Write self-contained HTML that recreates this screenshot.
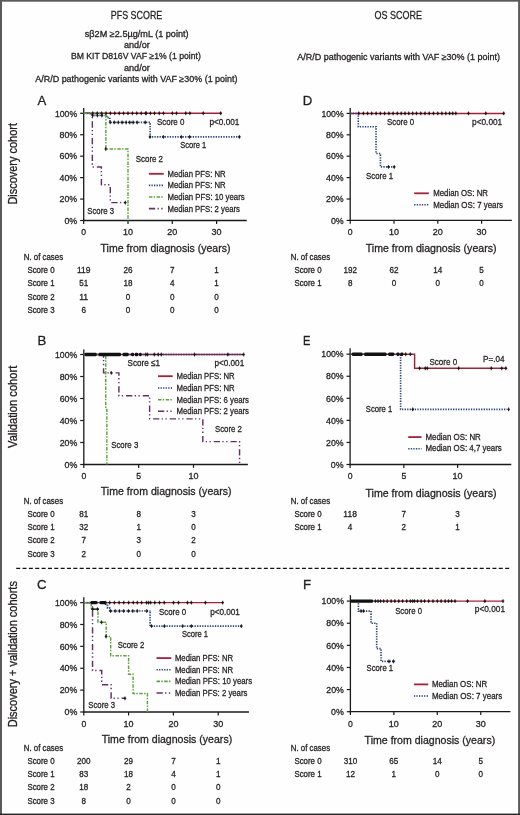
<!DOCTYPE html>
<html><head><meta charset="utf-8"><title>PFS and OS scores</title>
<style>html,body{margin:0;padding:0;background:#fff;width:520px;height:815px;overflow:hidden;}svg{display:block;will-change:transform;}text{font-family:"Liberation Sans",sans-serif;stroke:#231f20;stroke-width:0.3px;}</style></head>
<body>
<svg width="520" height="815" viewBox="0 0 520 815" font-family="Liberation Sans, sans-serif">
<rect x="0" y="0" width="520" height="815" fill="#fefefe"/>
<text x="110.80" y="18.50" font-size="11.6" textLength="51.5" lengthAdjust="spacingAndGlyphs" fill="#231f20">PFS SCORE</text>
<text x="374.60" y="18.70" font-size="11.6" textLength="47.4" lengthAdjust="spacingAndGlyphs" fill="#231f20">OS SCORE</text>
<text x="84.80" y="36.80" font-size="8.9" textLength="103.8" lengthAdjust="spacingAndGlyphs" fill="#231f20">sβ2M ≥2.5µg/mL (1 point)</text>
<text x="124.00" y="48.00" font-size="8.9" textLength="25.8" lengthAdjust="spacingAndGlyphs" fill="#231f20">and/or</text>
<text x="70.90" y="59.40" font-size="8.9" textLength="129.9" lengthAdjust="spacingAndGlyphs" fill="#231f20">BM KIT D816V VAF ≥1% (1 point)</text>
<text x="124.00" y="70.70" font-size="8.9" textLength="25.8" lengthAdjust="spacingAndGlyphs" fill="#231f20">and/or</text>
<text x="35.30" y="81.90" font-size="8.9" textLength="202.2" lengthAdjust="spacingAndGlyphs" fill="#231f20">A/R/D pathogenic variants with VAF ≥30% (1 point)</text>
<text x="297.30" y="60.00" font-size="8.9" textLength="202.6" lengthAdjust="spacingAndGlyphs" fill="#231f20">A/R/D pathogenic variants with VAF ≥30% (1 point)</text>
<text transform="translate(16.90,204.60) rotate(-90)" font-size="12.4" textLength="81.6" lengthAdjust="spacingAndGlyphs" fill="#231f20">Discovery cohort</text>
<text transform="translate(16.90,447.90) rotate(-90)" font-size="12.4" textLength="82.2" lengthAdjust="spacingAndGlyphs" fill="#231f20">Validation cohort</text>
<text transform="translate(16.90,727.30) rotate(-90)" font-size="12.4" textLength="146.2" lengthAdjust="spacingAndGlyphs" fill="#231f20">Discovery + validation cohorts</text>
<line x1="16.20" y1="568.30" x2="511.00" y2="568.30" stroke="#111" stroke-width="1.3" stroke-dasharray="4,2.35" stroke-linecap="butt"/>
<line x1="83.70" y1="108.00" x2="83.70" y2="221.10" stroke="#1a1a1a" stroke-width="1.3" stroke-linecap="butt"/>
<line x1="83.10" y1="220.50" x2="246.80" y2="220.50" stroke="#1a1a1a" stroke-width="1.3" stroke-linecap="butt"/>
<line x1="80.10" y1="113.30" x2="83.70" y2="113.30" stroke="#1a1a1a" stroke-width="1.2" stroke-linecap="butt"/>
<text x="77.20" y="116.50" font-size="9.3" text-anchor="end" textLength="22.3" lengthAdjust="spacingAndGlyphs" fill="#231f20">100%</text>
<line x1="80.10" y1="134.74" x2="83.70" y2="134.74" stroke="#1a1a1a" stroke-width="1.2" stroke-linecap="butt"/>
<text x="77.20" y="137.94" font-size="9.3" text-anchor="end" textLength="17.6" lengthAdjust="spacingAndGlyphs" fill="#231f20">80%</text>
<line x1="80.10" y1="156.18" x2="83.70" y2="156.18" stroke="#1a1a1a" stroke-width="1.2" stroke-linecap="butt"/>
<text x="77.20" y="159.38" font-size="9.3" text-anchor="end" textLength="17.6" lengthAdjust="spacingAndGlyphs" fill="#231f20">60%</text>
<line x1="80.10" y1="177.62" x2="83.70" y2="177.62" stroke="#1a1a1a" stroke-width="1.2" stroke-linecap="butt"/>
<text x="77.20" y="180.82" font-size="9.3" text-anchor="end" textLength="17.6" lengthAdjust="spacingAndGlyphs" fill="#231f20">40%</text>
<line x1="80.10" y1="199.06" x2="83.70" y2="199.06" stroke="#1a1a1a" stroke-width="1.2" stroke-linecap="butt"/>
<text x="77.20" y="202.26" font-size="9.3" text-anchor="end" textLength="17.6" lengthAdjust="spacingAndGlyphs" fill="#231f20">20%</text>
<line x1="80.10" y1="220.50" x2="83.70" y2="220.50" stroke="#1a1a1a" stroke-width="1.2" stroke-linecap="butt"/>
<text x="77.20" y="223.70" font-size="9.3" text-anchor="end" textLength="12.8" lengthAdjust="spacingAndGlyphs" fill="#231f20">0%</text>
<line x1="83.70" y1="220.50" x2="83.70" y2="223.90" stroke="#1a1a1a" stroke-width="1.2" stroke-linecap="butt"/>
<text x="83.70" y="235.40" font-size="9.1" text-anchor="middle" textLength="4.8" lengthAdjust="spacingAndGlyphs" fill="#231f20">0</text>
<line x1="128.00" y1="220.50" x2="128.00" y2="223.90" stroke="#1a1a1a" stroke-width="1.2" stroke-linecap="butt"/>
<text x="128.00" y="235.40" font-size="9.1" text-anchor="middle" textLength="10.0" lengthAdjust="spacingAndGlyphs" fill="#231f20">10</text>
<line x1="172.30" y1="220.50" x2="172.30" y2="223.90" stroke="#1a1a1a" stroke-width="1.2" stroke-linecap="butt"/>
<text x="172.30" y="235.40" font-size="9.1" text-anchor="middle" textLength="10.0" lengthAdjust="spacingAndGlyphs" fill="#231f20">20</text>
<line x1="216.60" y1="220.50" x2="216.60" y2="223.90" stroke="#1a1a1a" stroke-width="1.2" stroke-linecap="butt"/>
<text x="216.60" y="235.40" font-size="9.1" text-anchor="middle" textLength="10.0" lengthAdjust="spacingAndGlyphs" fill="#231f20">30</text>
<text x="37.60" y="104.70" font-size="13.2" fill="#231f20">A</text>
<path d="M83.70,113.30H221.92" fill="none" stroke="#a3223a" stroke-width="1.45"/>
<path d="M83.70,113.30H91.23V115.44H106.74V117.59H109.84V122.41H150.15V136.88H239.64" fill="none" stroke="#26437c" stroke-width="1.65" stroke-dasharray="1.3,1.25"/>
<path d="M83.70,113.30H92.34V166.90H101.42V184.80H110.28V202.60H125.34" fill="none" stroke="#633263" stroke-width="1.45" stroke-dasharray="6.3,2.3,1.3,2.5,1.3,3.0"/>
<path d="M83.70,113.30H105.85V149.00H128.00V220.50" fill="none" stroke="#62a340" stroke-width="1.45" stroke-dasharray="3.5,1.2,1.5,1.5"/>
<path d="M92.80,111.35L93.35,112.75L94.15,113.30L93.35,113.85L92.80,115.25L92.25,113.85L91.45,113.30L92.25,112.75ZM97.20,111.35L97.75,112.75L98.55,113.30L97.75,113.85L97.20,115.25L96.65,113.85L95.85,113.30L96.65,112.75ZM101.60,111.35L102.15,112.75L102.95,113.30L102.15,113.85L101.60,115.25L101.05,113.85L100.25,113.30L101.05,112.75ZM106.00,111.35L106.55,112.75L107.35,113.30L106.55,113.85L106.00,115.25L105.45,113.85L104.65,113.30L105.45,112.75ZM110.40,111.35L110.95,112.75L111.75,113.30L110.95,113.85L110.40,115.25L109.85,113.85L109.05,113.30L109.85,112.75ZM114.80,111.35L115.35,112.75L116.15,113.30L115.35,113.85L114.80,115.25L114.25,113.85L113.45,113.30L114.25,112.75ZM119.20,111.35L119.75,112.75L120.55,113.30L119.75,113.85L119.20,115.25L118.65,113.85L117.85,113.30L118.65,112.75ZM123.60,111.35L124.15,112.75L124.95,113.30L124.15,113.85L123.60,115.25L123.05,113.85L122.25,113.30L123.05,112.75ZM128.00,111.35L128.55,112.75L129.35,113.30L128.55,113.85L128.00,115.25L127.45,113.85L126.65,113.30L127.45,112.75ZM132.40,111.35L132.95,112.75L133.75,113.30L132.95,113.85L132.40,115.25L131.85,113.85L131.05,113.30L131.85,112.75ZM136.80,111.35L137.35,112.75L138.15,113.30L137.35,113.85L136.80,115.25L136.25,113.85L135.45,113.30L136.25,112.75ZM141.20,111.35L141.75,112.75L142.55,113.30L141.75,113.85L141.20,115.25L140.65,113.85L139.85,113.30L140.65,112.75ZM145.60,111.35L146.15,112.75L146.95,113.30L146.15,113.85L145.60,115.25L145.05,113.85L144.25,113.30L145.05,112.75ZM146.20,111.35L146.75,112.75L147.55,113.30L146.75,113.85L146.20,115.25L145.65,113.85L144.85,113.30L145.65,112.75ZM150.40,111.35L150.95,112.75L151.75,113.30L150.95,113.85L150.40,115.25L149.85,113.85L149.05,113.30L149.85,112.75ZM154.50,111.35L155.05,112.75L155.85,113.30L155.05,113.85L154.50,115.25L153.95,113.85L153.15,113.30L153.95,112.75ZM159.20,111.35L159.75,112.75L160.55,113.30L159.75,113.85L159.20,115.25L158.65,113.85L157.85,113.30L158.65,112.75ZM163.50,111.35L164.05,112.75L164.85,113.30L164.05,113.85L163.50,115.25L162.95,113.85L162.15,113.30L162.95,112.75ZM172.40,111.35L172.95,112.75L173.75,113.30L172.95,113.85L172.40,115.25L171.85,113.85L171.05,113.30L171.85,112.75ZM176.50,111.35L177.05,112.75L177.85,113.30L177.05,113.85L176.50,115.25L175.95,113.85L175.15,113.30L175.95,112.75ZM185.80,111.35L186.35,112.75L187.15,113.30L186.35,113.85L185.80,115.25L185.25,113.85L184.45,113.30L185.25,112.75ZM189.90,111.35L190.45,112.75L191.25,113.30L190.45,113.85L189.90,115.25L189.35,113.85L188.55,113.30L189.35,112.75ZM203.20,111.35L203.75,112.75L204.55,113.30L203.75,113.85L203.20,115.25L202.65,113.85L201.85,113.30L202.65,112.75ZM220.70,111.35L221.25,112.75L222.05,113.30L221.25,113.85L220.70,115.25L220.15,113.85L219.35,113.30L220.15,112.75Z" fill="#111" stroke="#111" stroke-width="0.35" stroke-linejoin="round"/>
<path d="M92.70,113.49L93.25,114.89L94.05,115.44L93.25,115.99L92.70,117.39L92.15,115.99L91.35,115.44L92.15,114.89ZM97.40,113.49L97.95,114.89L98.75,115.44L97.95,115.99L97.40,117.39L96.85,115.99L96.05,115.44L96.85,114.89ZM101.90,113.49L102.45,114.89L103.25,115.44L102.45,115.99L101.90,117.39L101.35,115.99L100.55,115.44L101.35,114.89Z" fill="#111" stroke="#111" stroke-width="0.35" stroke-linejoin="round"/>
<path d="M110.20,120.46L110.75,121.86L111.55,122.41L110.75,122.96L110.20,124.36L109.65,122.96L108.85,122.41L109.65,121.86ZM114.30,120.46L114.85,121.86L115.65,122.41L114.85,122.96L114.30,124.36L113.75,122.96L112.95,122.41L113.75,121.86ZM118.30,120.46L118.85,121.86L119.65,122.41L118.85,122.96L118.30,124.36L117.75,122.96L116.95,122.41L117.75,121.86ZM122.10,120.46L122.65,121.86L123.45,122.41L122.65,122.96L122.10,124.36L121.55,122.96L120.75,122.41L121.55,121.86ZM126.10,120.46L126.65,121.86L127.45,122.41L126.65,122.96L126.10,124.36L125.55,122.96L124.75,122.41L125.55,121.86ZM129.70,120.46L130.25,121.86L131.05,122.41L130.25,122.96L129.70,124.36L129.15,122.96L128.35,122.41L129.15,121.86ZM133.10,120.46L133.65,121.86L134.45,122.41L133.65,122.96L133.10,124.36L132.55,122.96L131.75,122.41L132.55,121.86ZM137.10,120.46L137.65,121.86L138.45,122.41L137.65,122.96L137.10,124.36L136.55,122.96L135.75,122.41L136.55,121.86ZM145.20,120.46L145.75,121.86L146.55,122.41L145.75,122.96L145.20,124.36L144.65,122.96L143.85,122.41L144.65,121.86Z" fill="#111" stroke="#111" stroke-width="0.35" stroke-linejoin="round"/>
<path d="M150.00,134.93L150.55,136.33L151.35,136.88L150.55,137.43L150.00,138.83L149.45,137.43L148.65,136.88L149.45,136.33ZM163.30,134.93L163.85,136.33L164.65,136.88L163.85,137.43L163.30,138.83L162.75,137.43L161.95,136.88L162.75,136.33ZM181.30,134.93L181.85,136.33L182.65,136.88L181.85,137.43L181.30,138.83L180.75,137.43L179.95,136.88L180.75,136.33ZM189.70,134.93L190.25,136.33L191.05,136.88L190.25,137.43L189.70,138.83L189.15,137.43L188.35,136.88L189.15,136.33ZM239.40,134.93L239.95,136.33L240.75,136.88L239.95,137.43L239.40,138.83L238.85,137.43L238.05,136.88L238.85,136.33Z" fill="#111" stroke="#111" stroke-width="0.35" stroke-linejoin="round"/>
<path d="M105.80,147.05L106.35,148.45L107.15,149.00L106.35,149.55L105.80,150.95L105.25,149.55L104.45,149.00L105.25,148.45Z" fill="#111" stroke="#111" stroke-width="0.35" stroke-linejoin="round"/>
<path d="M125.30,200.65L125.85,202.05L126.65,202.60L125.85,203.15L125.30,204.55L124.75,203.15L123.95,202.60L124.75,202.05Z" fill="#111" stroke="#111" stroke-width="0.35" stroke-linejoin="round"/>
<text x="156.90" y="124.80" font-size="9.6" textLength="27.5" lengthAdjust="spacingAndGlyphs" fill="#231f20">Score 0</text>
<text x="209.40" y="124.80" font-size="9.6" textLength="30.0" lengthAdjust="spacingAndGlyphs" fill="#231f20">p&lt;0.001</text>
<text x="180.30" y="148.10" font-size="9.6" textLength="25.9" lengthAdjust="spacingAndGlyphs" fill="#231f20">Score 1</text>
<text x="135.80" y="161.50" font-size="9.6" textLength="27.2" lengthAdjust="spacingAndGlyphs" fill="#231f20">Score 2</text>
<text x="87.30" y="213.50" font-size="9.6" textLength="26.8" lengthAdjust="spacingAndGlyphs" fill="#231f20">Score 3</text>
<line x1="148.90" y1="173.80" x2="163.70" y2="173.80" stroke="#a3223a" stroke-width="1.8" stroke-linecap="butt"/>
<text x="167.50" y="176.80" font-size="9.6" textLength="58.2" lengthAdjust="spacingAndGlyphs" fill="#231f20">Median PFS: NR</text>
<line x1="148.90" y1="185.40" x2="163.70" y2="185.40" stroke="#26437c" stroke-width="1.6" stroke-dasharray="1.3,1.25" stroke-linecap="butt"/>
<text x="167.50" y="188.40" font-size="9.6" textLength="58.2" lengthAdjust="spacingAndGlyphs" fill="#231f20">Median PFS: NR</text>
<line x1="148.90" y1="197.00" x2="163.70" y2="197.00" stroke="#62a340" stroke-width="1.6" stroke-dasharray="3.5,1.2,1.5,1.5" stroke-linecap="butt"/>
<text x="167.50" y="200.00" font-size="9.6" textLength="77.2" lengthAdjust="spacingAndGlyphs" fill="#231f20">Median PFS: 10 years</text>
<line x1="148.90" y1="208.60" x2="163.70" y2="208.60" stroke="#633263" stroke-width="1.6" stroke-dasharray="6.3,2.3,1.3,2.5,1.3,3.0" stroke-linecap="butt"/>
<text x="167.50" y="211.60" font-size="9.6" textLength="72.5" lengthAdjust="spacingAndGlyphs" fill="#231f20">Median PFS: 2 years</text>
<text x="100.60" y="251.80" font-size="11.3" textLength="129.8" lengthAdjust="spacingAndGlyphs" fill="#231f20">Time from diagnosis (years)</text>
<text x="23.80" y="259.60" font-size="8.9" textLength="39.3" lengthAdjust="spacingAndGlyphs" fill="#231f20">N. of cases</text>
<text x="27.40" y="272.90" font-size="8.9" textLength="27.2" lengthAdjust="spacingAndGlyphs" fill="#231f20">Score 0</text>
<text x="83.70" y="272.90" font-size="8.9" text-anchor="middle" textLength="13.5" lengthAdjust="spacingAndGlyphs" fill="#231f20">119</text>
<text x="128.00" y="272.90" font-size="8.9" text-anchor="middle" textLength="9.0" lengthAdjust="spacingAndGlyphs" fill="#231f20">26</text>
<text x="172.30" y="272.90" font-size="8.9" text-anchor="middle" textLength="4.5" lengthAdjust="spacingAndGlyphs" fill="#231f20">7</text>
<text x="216.60" y="272.90" font-size="8.9" text-anchor="middle" textLength="4.5" lengthAdjust="spacingAndGlyphs" fill="#231f20">1</text>
<text x="27.40" y="286.20" font-size="8.9" textLength="27.2" lengthAdjust="spacingAndGlyphs" fill="#231f20">Score 1</text>
<text x="83.70" y="286.20" font-size="8.9" text-anchor="middle" textLength="9.0" lengthAdjust="spacingAndGlyphs" fill="#231f20">51</text>
<text x="128.00" y="286.20" font-size="8.9" text-anchor="middle" textLength="9.0" lengthAdjust="spacingAndGlyphs" fill="#231f20">18</text>
<text x="172.30" y="286.20" font-size="8.9" text-anchor="middle" textLength="4.5" lengthAdjust="spacingAndGlyphs" fill="#231f20">4</text>
<text x="216.60" y="286.20" font-size="8.9" text-anchor="middle" textLength="4.5" lengthAdjust="spacingAndGlyphs" fill="#231f20">1</text>
<text x="27.40" y="299.50" font-size="8.9" textLength="27.2" lengthAdjust="spacingAndGlyphs" fill="#231f20">Score 2</text>
<text x="83.70" y="299.50" font-size="8.9" text-anchor="middle" textLength="9.0" lengthAdjust="spacingAndGlyphs" fill="#231f20">11</text>
<text x="128.00" y="299.50" font-size="8.9" text-anchor="middle" textLength="4.5" lengthAdjust="spacingAndGlyphs" fill="#231f20">0</text>
<text x="172.30" y="299.50" font-size="8.9" text-anchor="middle" textLength="4.5" lengthAdjust="spacingAndGlyphs" fill="#231f20">0</text>
<text x="216.60" y="299.50" font-size="8.9" text-anchor="middle" textLength="4.5" lengthAdjust="spacingAndGlyphs" fill="#231f20">0</text>
<text x="27.40" y="312.80" font-size="8.9" textLength="27.2" lengthAdjust="spacingAndGlyphs" fill="#231f20">Score 3</text>
<text x="83.70" y="312.80" font-size="8.9" text-anchor="middle" textLength="4.5" lengthAdjust="spacingAndGlyphs" fill="#231f20">6</text>
<text x="128.00" y="312.80" font-size="8.9" text-anchor="middle" textLength="4.5" lengthAdjust="spacingAndGlyphs" fill="#231f20">0</text>
<text x="172.30" y="312.80" font-size="8.9" text-anchor="middle" textLength="4.5" lengthAdjust="spacingAndGlyphs" fill="#231f20">0</text>
<text x="216.60" y="312.80" font-size="8.9" text-anchor="middle" textLength="4.5" lengthAdjust="spacingAndGlyphs" fill="#231f20">0</text>
<line x1="83.80" y1="349.50" x2="83.80" y2="465.10" stroke="#1a1a1a" stroke-width="1.3" stroke-linecap="butt"/>
<line x1="83.20" y1="464.50" x2="247.90" y2="464.50" stroke="#1a1a1a" stroke-width="1.3" stroke-linecap="butt"/>
<line x1="80.20" y1="354.50" x2="83.80" y2="354.50" stroke="#1a1a1a" stroke-width="1.2" stroke-linecap="butt"/>
<text x="77.30" y="357.70" font-size="9.3" text-anchor="end" textLength="22.3" lengthAdjust="spacingAndGlyphs" fill="#231f20">100%</text>
<line x1="80.20" y1="376.50" x2="83.80" y2="376.50" stroke="#1a1a1a" stroke-width="1.2" stroke-linecap="butt"/>
<text x="77.30" y="379.70" font-size="9.3" text-anchor="end" textLength="17.6" lengthAdjust="spacingAndGlyphs" fill="#231f20">80%</text>
<line x1="80.20" y1="398.50" x2="83.80" y2="398.50" stroke="#1a1a1a" stroke-width="1.2" stroke-linecap="butt"/>
<text x="77.30" y="401.70" font-size="9.3" text-anchor="end" textLength="17.6" lengthAdjust="spacingAndGlyphs" fill="#231f20">60%</text>
<line x1="80.20" y1="420.50" x2="83.80" y2="420.50" stroke="#1a1a1a" stroke-width="1.2" stroke-linecap="butt"/>
<text x="77.30" y="423.70" font-size="9.3" text-anchor="end" textLength="17.6" lengthAdjust="spacingAndGlyphs" fill="#231f20">40%</text>
<line x1="80.20" y1="442.50" x2="83.80" y2="442.50" stroke="#1a1a1a" stroke-width="1.2" stroke-linecap="butt"/>
<text x="77.30" y="445.70" font-size="9.3" text-anchor="end" textLength="17.6" lengthAdjust="spacingAndGlyphs" fill="#231f20">20%</text>
<line x1="80.20" y1="464.50" x2="83.80" y2="464.50" stroke="#1a1a1a" stroke-width="1.2" stroke-linecap="butt"/>
<text x="77.30" y="467.70" font-size="9.3" text-anchor="end" textLength="12.8" lengthAdjust="spacingAndGlyphs" fill="#231f20">0%</text>
<line x1="83.80" y1="464.50" x2="83.80" y2="467.90" stroke="#1a1a1a" stroke-width="1.2" stroke-linecap="butt"/>
<text x="83.80" y="479.20" font-size="9.1" text-anchor="middle" textLength="4.8" lengthAdjust="spacingAndGlyphs" fill="#231f20">0</text>
<line x1="138.65" y1="464.50" x2="138.65" y2="467.90" stroke="#1a1a1a" stroke-width="1.2" stroke-linecap="butt"/>
<text x="138.65" y="479.20" font-size="9.1" text-anchor="middle" textLength="4.8" lengthAdjust="spacingAndGlyphs" fill="#231f20">5</text>
<line x1="193.50" y1="464.50" x2="193.50" y2="467.90" stroke="#1a1a1a" stroke-width="1.2" stroke-linecap="butt"/>
<text x="193.50" y="479.20" font-size="9.1" text-anchor="middle" textLength="10.0" lengthAdjust="spacingAndGlyphs" fill="#231f20">10</text>
<text x="37.50" y="344.70" font-size="13.2" fill="#231f20">B</text>
<path d="M83.80,354.50H242.87" fill="none" stroke="#a3223a" stroke-width="1.45"/>
<path d="M83.80,354.50H242.87" fill="none" stroke="#26437c" stroke-width="1.65" stroke-dasharray="1.3,1.25"/>
<path d="M83.80,354.50H103.55V372.87H118.90V395.75H149.62V418.85H202.82V441.62H239.57V464.50" fill="none" stroke="#633263" stroke-width="1.45" stroke-dasharray="6.3,2.3,1.3,2.5,1.3,3.0"/>
<path d="M83.80,354.50H105.74V409.50H106.84V464.50" fill="none" stroke="#62a340" stroke-width="1.45" stroke-dasharray="3.5,1.2,1.5,1.5"/>
<rect x="84.60" y="352.80" width="12.10" height="3.4" rx="1.2" fill="#111"/>
<rect x="98.40" y="352.80" width="22.60" height="3.4" rx="1.2" fill="#111"/>
<rect x="122.70" y="352.80" width="6.00" height="3.4" rx="1.2" fill="#111"/>
<rect x="131.00" y="352.80" width="3.00" height="3.4" rx="1.2" fill="#111"/>
<rect x="134.80" y="352.80" width="3.40" height="3.4" rx="1.2" fill="#111"/>
<rect x="139.00" y="352.80" width="2.70" height="3.4" rx="1.2" fill="#111"/>
<path d="M145.70,352.55L146.25,353.95L147.05,354.50L146.25,355.05L145.70,356.45L145.15,355.05L144.35,354.50L145.15,353.95ZM147.40,352.55L147.95,353.95L148.75,354.50L147.95,355.05L147.40,356.45L146.85,355.05L146.05,354.50L146.85,353.95ZM154.30,352.55L154.85,353.95L155.65,354.50L154.85,355.05L154.30,356.45L153.75,355.05L152.95,354.50L153.75,353.95ZM158.20,352.55L158.75,353.95L159.55,354.50L158.75,355.05L158.20,356.45L157.65,355.05L156.85,354.50L157.65,353.95ZM161.30,352.55L161.85,353.95L162.65,354.50L161.85,355.05L161.30,356.45L160.75,355.05L159.95,354.50L160.75,353.95ZM194.60,352.55L195.15,353.95L195.95,354.50L195.15,355.05L194.60,356.45L194.05,355.05L193.25,354.50L194.05,353.95ZM227.90,352.55L228.45,353.95L229.25,354.50L228.45,355.05L227.90,356.45L227.35,355.05L226.55,354.50L227.35,353.95ZM243.70,352.55L244.25,353.95L245.05,354.50L244.25,355.05L243.70,356.45L243.15,355.05L242.35,354.50L243.15,353.95Z" fill="#111" stroke="#111" stroke-width="0.35" stroke-linejoin="round"/>
<path d="M111.20,370.92L111.75,372.32L112.55,372.87L111.75,373.42L111.20,374.82L110.65,373.42L109.85,372.87L110.65,372.32Z" fill="#111" stroke="#111" stroke-width="0.35" stroke-linejoin="round"/>
<text x="127.60" y="365.70" font-size="9.6" textLength="32.4" lengthAdjust="spacingAndGlyphs" fill="#231f20">Score ≤1</text>
<text x="214.40" y="366.10" font-size="9.6" textLength="29.8" lengthAdjust="spacingAndGlyphs" fill="#231f20">p&lt;0.001</text>
<text x="111.20" y="447.80" font-size="9.6" textLength="27.1" lengthAdjust="spacingAndGlyphs" fill="#231f20">Score 3</text>
<text x="215.00" y="432.20" font-size="9.6" textLength="26.9" lengthAdjust="spacingAndGlyphs" fill="#231f20">Score 2</text>
<line x1="158.00" y1="376.20" x2="172.70" y2="376.20" stroke="#a3223a" stroke-width="1.8" stroke-linecap="butt"/>
<text x="176.50" y="379.20" font-size="9.6" textLength="58.2" lengthAdjust="spacingAndGlyphs" fill="#231f20">Median PFS: NR</text>
<line x1="158.00" y1="388.00" x2="172.70" y2="388.00" stroke="#26437c" stroke-width="1.6" stroke-dasharray="1.3,1.25" stroke-linecap="butt"/>
<text x="176.50" y="391.00" font-size="9.6" textLength="58.2" lengthAdjust="spacingAndGlyphs" fill="#231f20">Median PFS: NR</text>
<line x1="158.00" y1="399.70" x2="172.70" y2="399.70" stroke="#62a340" stroke-width="1.6" stroke-dasharray="3.5,1.2,1.5,1.5" stroke-linecap="butt"/>
<text x="176.50" y="402.70" font-size="9.6" textLength="72.5" lengthAdjust="spacingAndGlyphs" fill="#231f20">Median PFS: 6 years</text>
<line x1="158.00" y1="411.30" x2="172.70" y2="411.30" stroke="#633263" stroke-width="1.6" stroke-dasharray="6.3,2.3,1.3,2.5,1.3,3.0" stroke-linecap="butt"/>
<text x="176.50" y="414.30" font-size="9.6" textLength="72.5" lengthAdjust="spacingAndGlyphs" fill="#231f20">Median PFS: 2 years</text>
<text x="100.80" y="495.20" font-size="11.3" textLength="130.7" lengthAdjust="spacingAndGlyphs" fill="#231f20">Time from diagnosis (years)</text>
<text x="23.80" y="503.50" font-size="8.9" textLength="39.3" lengthAdjust="spacingAndGlyphs" fill="#231f20">N. of cases</text>
<text x="27.40" y="516.75" font-size="8.9" textLength="27.2" lengthAdjust="spacingAndGlyphs" fill="#231f20">Score 0</text>
<text x="83.80" y="516.75" font-size="8.9" text-anchor="middle" textLength="9.0" lengthAdjust="spacingAndGlyphs" fill="#231f20">81</text>
<text x="138.65" y="516.75" font-size="8.9" text-anchor="middle" textLength="4.5" lengthAdjust="spacingAndGlyphs" fill="#231f20">8</text>
<text x="193.50" y="516.75" font-size="8.9" text-anchor="middle" textLength="4.5" lengthAdjust="spacingAndGlyphs" fill="#231f20">3</text>
<text x="27.40" y="530.00" font-size="8.9" textLength="27.2" lengthAdjust="spacingAndGlyphs" fill="#231f20">Score 1</text>
<text x="83.80" y="530.00" font-size="8.9" text-anchor="middle" textLength="9.0" lengthAdjust="spacingAndGlyphs" fill="#231f20">32</text>
<text x="138.65" y="530.00" font-size="8.9" text-anchor="middle" textLength="4.5" lengthAdjust="spacingAndGlyphs" fill="#231f20">1</text>
<text x="193.50" y="530.00" font-size="8.9" text-anchor="middle" textLength="4.5" lengthAdjust="spacingAndGlyphs" fill="#231f20">0</text>
<text x="27.40" y="543.25" font-size="8.9" textLength="27.2" lengthAdjust="spacingAndGlyphs" fill="#231f20">Score 2</text>
<text x="83.80" y="543.25" font-size="8.9" text-anchor="middle" textLength="4.5" lengthAdjust="spacingAndGlyphs" fill="#231f20">7</text>
<text x="138.65" y="543.25" font-size="8.9" text-anchor="middle" textLength="4.5" lengthAdjust="spacingAndGlyphs" fill="#231f20">3</text>
<text x="193.50" y="543.25" font-size="8.9" text-anchor="middle" textLength="4.5" lengthAdjust="spacingAndGlyphs" fill="#231f20">2</text>
<text x="27.40" y="556.50" font-size="8.9" textLength="27.2" lengthAdjust="spacingAndGlyphs" fill="#231f20">Score 3</text>
<text x="83.80" y="556.50" font-size="8.9" text-anchor="middle" textLength="4.5" lengthAdjust="spacingAndGlyphs" fill="#231f20">2</text>
<text x="138.65" y="556.50" font-size="8.9" text-anchor="middle" textLength="4.5" lengthAdjust="spacingAndGlyphs" fill="#231f20">0</text>
<text x="193.50" y="556.50" font-size="8.9" text-anchor="middle" textLength="4.5" lengthAdjust="spacingAndGlyphs" fill="#231f20">0</text>
<line x1="83.80" y1="597.30" x2="83.80" y2="712.60" stroke="#1a1a1a" stroke-width="1.3" stroke-linecap="butt"/>
<line x1="83.20" y1="712.00" x2="249.00" y2="712.00" stroke="#1a1a1a" stroke-width="1.3" stroke-linecap="butt"/>
<line x1="80.20" y1="602.60" x2="83.80" y2="602.60" stroke="#1a1a1a" stroke-width="1.2" stroke-linecap="butt"/>
<text x="77.30" y="605.80" font-size="9.3" text-anchor="end" textLength="22.3" lengthAdjust="spacingAndGlyphs" fill="#231f20">100%</text>
<line x1="80.20" y1="624.48" x2="83.80" y2="624.48" stroke="#1a1a1a" stroke-width="1.2" stroke-linecap="butt"/>
<text x="77.30" y="627.68" font-size="9.3" text-anchor="end" textLength="17.6" lengthAdjust="spacingAndGlyphs" fill="#231f20">80%</text>
<line x1="80.20" y1="646.36" x2="83.80" y2="646.36" stroke="#1a1a1a" stroke-width="1.2" stroke-linecap="butt"/>
<text x="77.30" y="649.56" font-size="9.3" text-anchor="end" textLength="17.6" lengthAdjust="spacingAndGlyphs" fill="#231f20">60%</text>
<line x1="80.20" y1="668.24" x2="83.80" y2="668.24" stroke="#1a1a1a" stroke-width="1.2" stroke-linecap="butt"/>
<text x="77.30" y="671.44" font-size="9.3" text-anchor="end" textLength="17.6" lengthAdjust="spacingAndGlyphs" fill="#231f20">40%</text>
<line x1="80.20" y1="690.12" x2="83.80" y2="690.12" stroke="#1a1a1a" stroke-width="1.2" stroke-linecap="butt"/>
<text x="77.30" y="693.32" font-size="9.3" text-anchor="end" textLength="17.6" lengthAdjust="spacingAndGlyphs" fill="#231f20">20%</text>
<line x1="80.20" y1="712.00" x2="83.80" y2="712.00" stroke="#1a1a1a" stroke-width="1.2" stroke-linecap="butt"/>
<text x="77.30" y="715.20" font-size="9.3" text-anchor="end" textLength="12.8" lengthAdjust="spacingAndGlyphs" fill="#231f20">0%</text>
<line x1="83.80" y1="712.00" x2="83.80" y2="715.40" stroke="#1a1a1a" stroke-width="1.2" stroke-linecap="butt"/>
<text x="83.80" y="726.80" font-size="9.1" text-anchor="middle" textLength="4.8" lengthAdjust="spacingAndGlyphs" fill="#231f20">0</text>
<line x1="128.60" y1="712.00" x2="128.60" y2="715.40" stroke="#1a1a1a" stroke-width="1.2" stroke-linecap="butt"/>
<text x="128.60" y="726.80" font-size="9.1" text-anchor="middle" textLength="10.0" lengthAdjust="spacingAndGlyphs" fill="#231f20">10</text>
<line x1="173.40" y1="712.00" x2="173.40" y2="715.40" stroke="#1a1a1a" stroke-width="1.2" stroke-linecap="butt"/>
<text x="173.40" y="726.80" font-size="9.1" text-anchor="middle" textLength="10.0" lengthAdjust="spacingAndGlyphs" fill="#231f20">20</text>
<line x1="218.20" y1="712.00" x2="218.20" y2="715.40" stroke="#1a1a1a" stroke-width="1.2" stroke-linecap="butt"/>
<text x="218.20" y="726.80" font-size="9.1" text-anchor="middle" textLength="10.0" lengthAdjust="spacingAndGlyphs" fill="#231f20">30</text>
<text x="36.90" y="589.30" font-size="13.2" fill="#231f20">C</text>
<path d="M83.80,602.60H222.68" fill="none" stroke="#a3223a" stroke-width="1.45"/>
<path d="M83.80,602.60H105.53V605.34H107.54V608.07H109.78V611.02H150.55H150.10V626.12H241.50" fill="none" stroke="#26437c" stroke-width="1.65" stroke-dasharray="1.3,1.25"/>
<path d="M83.80,602.60H92.54V670.43H101.72V684.65H111.13V698.33H125.02" fill="none" stroke="#633263" stroke-width="1.45" stroke-dasharray="6.3,2.3,1.3,2.5,1.3,3.0"/>
<path d="M83.80,602.60H91.19V609.16H98.00V622.29H106.20V636.51H110.68V655.66H128.60V674.26H133.08V693.40H147.42V712.00" fill="none" stroke="#62a340" stroke-width="1.45" stroke-dasharray="3.5,1.2,1.5,1.5"/>
<rect x="90.50" y="600.90" width="6.90" height="3.4" rx="1.2" fill="#111"/>
<rect x="99.70" y="600.90" width="6.10" height="3.4" rx="1.2" fill="#111"/>
<path d="M105.70,600.65L106.25,602.05L107.05,602.60L106.25,603.15L105.70,604.55L105.15,603.15L104.35,602.60L105.15,602.05ZM109.70,600.65L110.25,602.05L111.05,602.60L110.25,603.15L109.70,604.55L109.15,603.15L108.35,602.60L109.15,602.05ZM114.40,600.65L114.95,602.05L115.75,602.60L114.95,603.15L114.40,604.55L113.85,603.15L113.05,602.60L113.85,602.05ZM119.10,600.65L119.65,602.05L120.45,602.60L119.65,603.15L119.10,604.55L118.55,603.15L117.75,602.60L118.55,602.05ZM123.80,600.65L124.35,602.05L125.15,602.60L124.35,603.15L123.80,604.55L123.25,603.15L122.45,602.60L123.25,602.05ZM128.60,600.65L129.15,602.05L129.95,602.60L129.15,603.15L128.60,604.55L128.05,603.15L127.25,602.60L128.05,602.05ZM133.30,600.65L133.85,602.05L134.65,602.60L133.85,603.15L133.30,604.55L132.75,603.15L131.95,602.60L132.75,602.05ZM137.30,600.65L137.85,602.05L138.65,602.60L137.85,603.15L137.30,604.55L136.75,603.15L135.95,602.60L136.75,602.05ZM141.60,600.65L142.15,602.05L142.95,602.60L142.15,603.15L141.60,604.55L141.05,603.15L140.25,602.60L141.05,602.05ZM146.50,600.65L147.05,602.05L147.85,602.60L147.05,603.15L146.50,604.55L145.95,603.15L145.15,602.60L145.95,602.05ZM148.50,600.65L149.05,602.05L149.85,602.60L149.05,603.15L148.50,604.55L147.95,603.15L147.15,602.60L147.95,602.05ZM150.60,600.65L151.15,602.05L151.95,602.60L151.15,603.15L150.60,604.55L150.05,603.15L149.25,602.60L150.05,602.05ZM154.80,600.65L155.35,602.05L156.15,602.60L155.35,603.15L154.80,604.55L154.25,603.15L153.45,602.60L154.25,602.05ZM159.50,600.65L160.05,602.05L160.85,602.60L160.05,603.15L159.50,604.55L158.95,603.15L158.15,602.60L158.95,602.05ZM164.20,600.65L164.75,602.05L165.55,602.60L164.75,603.15L164.20,604.55L163.65,603.15L162.85,602.60L163.65,602.05ZM173.50,600.65L174.05,602.05L174.85,602.60L174.05,603.15L173.50,604.55L172.95,603.15L172.15,602.60L172.95,602.05ZM178.50,600.65L179.05,602.05L179.85,602.60L179.05,603.15L178.50,604.55L177.95,603.15L177.15,602.60L177.95,602.05ZM187.50,600.65L188.05,602.05L188.85,602.60L188.05,603.15L187.50,604.55L186.95,603.15L186.15,602.60L186.95,602.05ZM191.30,600.65L191.85,602.05L192.65,602.60L191.85,603.15L191.30,604.55L190.75,603.15L189.95,602.60L190.75,602.05ZM205.40,600.65L205.95,602.05L206.75,602.60L205.95,603.15L205.40,604.55L204.85,603.15L204.05,602.60L204.85,602.05ZM222.70,600.65L223.25,602.05L224.05,602.60L223.25,603.15L222.70,604.55L222.15,603.15L221.35,602.60L222.15,602.05Z" fill="#111" stroke="#111" stroke-width="0.35" stroke-linejoin="round"/>
<line x1="91.20" y1="609.16" x2="98.90" y2="609.16" stroke="#222" stroke-width="1.2" stroke-linecap="butt"/>
<path d="M92.70,607.21L93.25,608.61L94.05,609.16L93.25,609.71L92.70,611.11L92.15,609.71L91.35,609.16L92.15,608.61ZM97.50,607.21L98.05,608.61L98.85,609.16L98.05,609.71L97.50,611.11L96.95,609.71L96.15,609.16L96.95,608.61Z" fill="#111" stroke="#111" stroke-width="0.35" stroke-linejoin="round"/>
<path d="M101.60,620.34L102.15,621.74L102.95,622.29L102.15,622.84L101.60,624.24L101.05,622.84L100.25,622.29L101.05,621.74Z" fill="#111" stroke="#111" stroke-width="0.35" stroke-linejoin="round"/>
<path d="M106.00,634.56L106.55,635.96L107.35,636.51L106.55,637.06L106.00,638.46L105.45,637.06L104.65,636.51L105.45,635.96Z" fill="#111" stroke="#111" stroke-width="0.35" stroke-linejoin="round"/>
<path d="M110.70,609.07L111.25,610.47L112.05,611.02L111.25,611.57L110.70,612.97L110.15,611.57L109.35,611.02L110.15,610.47ZM115.10,609.07L115.65,610.47L116.45,611.02L115.65,611.57L115.10,612.97L114.55,611.57L113.75,611.02L114.55,610.47ZM119.40,609.07L119.95,610.47L120.75,611.02L119.95,611.57L119.40,612.97L118.85,611.57L118.05,611.02L118.85,610.47ZM123.70,609.07L124.25,610.47L125.05,611.02L124.25,611.57L123.70,612.97L123.15,611.57L122.35,611.02L123.15,610.47ZM128.50,609.07L129.05,610.47L129.85,611.02L129.05,611.57L128.50,612.97L127.95,611.57L127.15,611.02L127.95,610.47ZM132.80,609.07L133.35,610.47L134.15,611.02L133.35,611.57L132.80,612.97L132.25,611.57L131.45,611.02L132.25,610.47ZM137.20,609.07L137.75,610.47L138.55,611.02L137.75,611.57L137.20,612.97L136.65,611.57L135.85,611.02L136.65,610.47ZM146.80,609.07L147.35,610.47L148.15,611.02L147.35,611.57L146.80,612.97L146.25,611.57L145.45,611.02L146.25,610.47Z" fill="#111" stroke="#111" stroke-width="0.35" stroke-linejoin="round"/>
<path d="M151.50,624.17L152.05,625.57L152.85,626.12L152.05,626.67L151.50,628.07L150.95,626.67L150.15,626.12L150.95,625.57ZM164.40,624.17L164.95,625.57L165.75,626.12L164.95,626.67L164.40,628.07L163.85,626.67L163.05,626.12L163.85,625.57ZM182.70,624.17L183.25,625.57L184.05,626.12L183.25,626.67L182.70,628.07L182.15,626.67L181.35,626.12L182.15,625.57ZM191.30,624.17L191.85,625.57L192.65,626.12L191.85,626.67L191.30,628.07L190.75,626.67L189.95,626.12L190.75,625.57ZM241.30,624.17L241.85,625.57L242.65,626.12L241.85,626.67L241.30,628.07L240.75,626.67L239.95,626.12L240.75,625.57Z" fill="#111" stroke="#111" stroke-width="0.35" stroke-linejoin="round"/>
<path d="M125.00,696.38L125.55,697.78L126.35,698.33L125.55,698.88L125.00,700.28L124.45,698.88L123.65,698.33L124.45,697.78Z" fill="#111" stroke="#111" stroke-width="0.35" stroke-linejoin="round"/>
<text x="159.00" y="614.60" font-size="9.6" textLength="27.1" lengthAdjust="spacingAndGlyphs" fill="#231f20">Score 0</text>
<text x="210.20" y="614.60" font-size="9.6" textLength="29.7" lengthAdjust="spacingAndGlyphs" fill="#231f20">p&lt;0.001</text>
<text x="181.90" y="637.30" font-size="9.6" textLength="26.2" lengthAdjust="spacingAndGlyphs" fill="#231f20">Score 1</text>
<text x="117.70" y="647.90" font-size="9.6" textLength="26.7" lengthAdjust="spacingAndGlyphs" fill="#231f20">Score 2</text>
<text x="88.30" y="707.60" font-size="9.6" textLength="26.8" lengthAdjust="spacingAndGlyphs" fill="#231f20">Score 3</text>
<line x1="156.50" y1="658.10" x2="171.30" y2="658.10" stroke="#a3223a" stroke-width="1.8" stroke-linecap="butt"/>
<text x="174.90" y="661.10" font-size="9.6" textLength="58.2" lengthAdjust="spacingAndGlyphs" fill="#231f20">Median PFS: NR</text>
<line x1="156.50" y1="669.80" x2="171.30" y2="669.80" stroke="#26437c" stroke-width="1.6" stroke-dasharray="1.3,1.25" stroke-linecap="butt"/>
<text x="174.90" y="672.80" font-size="9.6" textLength="58.2" lengthAdjust="spacingAndGlyphs" fill="#231f20">Median PFS: NR</text>
<line x1="156.50" y1="681.40" x2="171.30" y2="681.40" stroke="#62a340" stroke-width="1.6" stroke-dasharray="3.5,1.2,1.5,1.5" stroke-linecap="butt"/>
<text x="174.90" y="684.40" font-size="9.6" textLength="77.2" lengthAdjust="spacingAndGlyphs" fill="#231f20">Median PFS: 10 years</text>
<line x1="156.50" y1="693.00" x2="171.30" y2="693.00" stroke="#633263" stroke-width="1.6" stroke-dasharray="6.3,2.3,1.3,2.5,1.3,3.0" stroke-linecap="butt"/>
<text x="174.90" y="696.00" font-size="9.6" textLength="72.5" lengthAdjust="spacingAndGlyphs" fill="#231f20">Median PFS: 2 years</text>
<text x="101.70" y="742.50" font-size="11.3" textLength="130.5" lengthAdjust="spacingAndGlyphs" fill="#231f20">Time from diagnosis (years)</text>
<text x="23.80" y="750.50" font-size="8.9" textLength="39.3" lengthAdjust="spacingAndGlyphs" fill="#231f20">N. of cases</text>
<text x="27.40" y="763.80" font-size="8.9" textLength="27.2" lengthAdjust="spacingAndGlyphs" fill="#231f20">Score 0</text>
<text x="83.80" y="763.80" font-size="8.9" text-anchor="middle" textLength="13.5" lengthAdjust="spacingAndGlyphs" fill="#231f20">200</text>
<text x="128.60" y="763.80" font-size="8.9" text-anchor="middle" textLength="9.0" lengthAdjust="spacingAndGlyphs" fill="#231f20">29</text>
<text x="173.40" y="763.80" font-size="8.9" text-anchor="middle" textLength="4.5" lengthAdjust="spacingAndGlyphs" fill="#231f20">7</text>
<text x="218.20" y="763.80" font-size="8.9" text-anchor="middle" textLength="4.5" lengthAdjust="spacingAndGlyphs" fill="#231f20">1</text>
<text x="27.40" y="777.10" font-size="8.9" textLength="27.2" lengthAdjust="spacingAndGlyphs" fill="#231f20">Score 1</text>
<text x="83.80" y="777.10" font-size="8.9" text-anchor="middle" textLength="9.0" lengthAdjust="spacingAndGlyphs" fill="#231f20">83</text>
<text x="128.60" y="777.10" font-size="8.9" text-anchor="middle" textLength="9.0" lengthAdjust="spacingAndGlyphs" fill="#231f20">18</text>
<text x="173.40" y="777.10" font-size="8.9" text-anchor="middle" textLength="4.5" lengthAdjust="spacingAndGlyphs" fill="#231f20">4</text>
<text x="218.20" y="777.10" font-size="8.9" text-anchor="middle" textLength="4.5" lengthAdjust="spacingAndGlyphs" fill="#231f20">1</text>
<text x="27.40" y="790.40" font-size="8.9" textLength="27.2" lengthAdjust="spacingAndGlyphs" fill="#231f20">Score 2</text>
<text x="83.80" y="790.40" font-size="8.9" text-anchor="middle" textLength="9.0" lengthAdjust="spacingAndGlyphs" fill="#231f20">18</text>
<text x="128.60" y="790.40" font-size="8.9" text-anchor="middle" textLength="4.5" lengthAdjust="spacingAndGlyphs" fill="#231f20">2</text>
<text x="173.40" y="790.40" font-size="8.9" text-anchor="middle" textLength="4.5" lengthAdjust="spacingAndGlyphs" fill="#231f20">0</text>
<text x="218.20" y="790.40" font-size="8.9" text-anchor="middle" textLength="4.5" lengthAdjust="spacingAndGlyphs" fill="#231f20">0</text>
<text x="27.40" y="803.70" font-size="8.9" textLength="27.2" lengthAdjust="spacingAndGlyphs" fill="#231f20">Score 3</text>
<text x="83.80" y="803.70" font-size="8.9" text-anchor="middle" textLength="4.5" lengthAdjust="spacingAndGlyphs" fill="#231f20">8</text>
<text x="128.60" y="803.70" font-size="8.9" text-anchor="middle" textLength="4.5" lengthAdjust="spacingAndGlyphs" fill="#231f20">0</text>
<text x="173.40" y="803.70" font-size="8.9" text-anchor="middle" textLength="4.5" lengthAdjust="spacingAndGlyphs" fill="#231f20">0</text>
<text x="218.20" y="803.70" font-size="8.9" text-anchor="middle" textLength="4.5" lengthAdjust="spacingAndGlyphs" fill="#231f20">0</text>
<line x1="350.20" y1="108.00" x2="350.20" y2="221.00" stroke="#1a1a1a" stroke-width="1.3" stroke-linecap="butt"/>
<line x1="349.60" y1="220.40" x2="511.80" y2="220.40" stroke="#1a1a1a" stroke-width="1.3" stroke-linecap="butt"/>
<line x1="346.60" y1="113.40" x2="350.20" y2="113.40" stroke="#1a1a1a" stroke-width="1.2" stroke-linecap="butt"/>
<text x="343.70" y="116.60" font-size="9.3" text-anchor="end" textLength="22.3" lengthAdjust="spacingAndGlyphs" fill="#231f20">100%</text>
<line x1="346.60" y1="134.80" x2="350.20" y2="134.80" stroke="#1a1a1a" stroke-width="1.2" stroke-linecap="butt"/>
<text x="343.70" y="138.00" font-size="9.3" text-anchor="end" textLength="17.6" lengthAdjust="spacingAndGlyphs" fill="#231f20">80%</text>
<line x1="346.60" y1="156.20" x2="350.20" y2="156.20" stroke="#1a1a1a" stroke-width="1.2" stroke-linecap="butt"/>
<text x="343.70" y="159.40" font-size="9.3" text-anchor="end" textLength="17.6" lengthAdjust="spacingAndGlyphs" fill="#231f20">60%</text>
<line x1="346.60" y1="177.60" x2="350.20" y2="177.60" stroke="#1a1a1a" stroke-width="1.2" stroke-linecap="butt"/>
<text x="343.70" y="180.80" font-size="9.3" text-anchor="end" textLength="17.6" lengthAdjust="spacingAndGlyphs" fill="#231f20">40%</text>
<line x1="346.60" y1="199.00" x2="350.20" y2="199.00" stroke="#1a1a1a" stroke-width="1.2" stroke-linecap="butt"/>
<text x="343.70" y="202.20" font-size="9.3" text-anchor="end" textLength="17.6" lengthAdjust="spacingAndGlyphs" fill="#231f20">20%</text>
<line x1="346.60" y1="220.40" x2="350.20" y2="220.40" stroke="#1a1a1a" stroke-width="1.2" stroke-linecap="butt"/>
<text x="343.70" y="223.60" font-size="9.3" text-anchor="end" textLength="12.8" lengthAdjust="spacingAndGlyphs" fill="#231f20">0%</text>
<line x1="350.20" y1="220.40" x2="350.20" y2="223.80" stroke="#1a1a1a" stroke-width="1.2" stroke-linecap="butt"/>
<text x="350.20" y="235.20" font-size="9.1" text-anchor="middle" textLength="4.8" lengthAdjust="spacingAndGlyphs" fill="#231f20">0</text>
<line x1="394.00" y1="220.40" x2="394.00" y2="223.80" stroke="#1a1a1a" stroke-width="1.2" stroke-linecap="butt"/>
<text x="394.00" y="235.20" font-size="9.1" text-anchor="middle" textLength="10.0" lengthAdjust="spacingAndGlyphs" fill="#231f20">10</text>
<line x1="437.80" y1="220.40" x2="437.80" y2="223.80" stroke="#1a1a1a" stroke-width="1.2" stroke-linecap="butt"/>
<text x="437.80" y="235.20" font-size="9.1" text-anchor="middle" textLength="10.0" lengthAdjust="spacingAndGlyphs" fill="#231f20">20</text>
<line x1="481.60" y1="220.40" x2="481.60" y2="223.80" stroke="#1a1a1a" stroke-width="1.2" stroke-linecap="butt"/>
<text x="481.60" y="235.20" font-size="9.1" text-anchor="middle" textLength="10.0" lengthAdjust="spacingAndGlyphs" fill="#231f20">30</text>
<text x="302.80" y="104.80" font-size="13.2" fill="#231f20">D</text>
<path d="M350.20,113.40H504.38" fill="none" stroke="#a3223a" stroke-width="1.45"/>
<path d="M350.20,113.40H358.30V126.78H376.04V153.53H380.42V166.90H394.88" fill="none" stroke="#26437c" stroke-width="1.65" stroke-dasharray="1.3,1.25"/>
<path d="M358.80,111.45L359.35,112.85L360.15,113.40L359.35,113.95L358.80,115.35L358.25,113.95L357.45,113.40L358.25,112.85ZM363.40,111.45L363.95,112.85L364.75,113.40L363.95,113.95L363.40,115.35L362.85,113.95L362.05,113.40L362.85,112.85ZM367.60,111.45L368.15,112.85L368.95,113.40L368.15,113.95L367.60,115.35L367.05,113.95L366.25,113.40L367.05,112.85ZM371.70,111.45L372.25,112.85L373.05,113.40L372.25,113.95L371.70,115.35L371.15,113.95L370.35,113.40L371.15,112.85ZM376.10,111.45L376.65,112.85L377.45,113.40L376.65,113.95L376.10,115.35L375.55,113.95L374.75,113.40L375.55,112.85ZM380.40,111.45L380.95,112.85L381.75,113.40L380.95,113.95L380.40,115.35L379.85,113.95L379.05,113.40L379.85,112.85ZM384.60,111.45L385.15,112.85L385.95,113.40L385.15,113.95L384.60,115.35L384.05,113.95L383.25,113.40L384.05,112.85ZM388.90,111.45L389.45,112.85L390.25,113.40L389.45,113.95L388.90,115.35L388.35,113.95L387.55,113.40L388.35,112.85ZM393.10,111.45L393.65,112.85L394.45,113.40L393.65,113.95L393.10,115.35L392.55,113.95L391.75,113.40L392.55,112.85ZM397.30,111.45L397.85,112.85L398.65,113.40L397.85,113.95L397.30,115.35L396.75,113.95L395.95,113.40L396.75,112.85ZM401.20,111.45L401.75,112.85L402.55,113.40L401.75,113.95L401.20,115.35L400.65,113.95L399.85,113.40L400.65,112.85ZM405.00,111.45L405.55,112.85L406.35,113.40L405.55,113.95L405.00,115.35L404.45,113.95L403.65,113.40L404.45,112.85ZM408.80,111.45L409.35,112.85L410.15,113.40L409.35,113.95L408.80,115.35L408.25,113.95L407.45,113.40L408.25,112.85ZM412.70,111.45L413.25,112.85L414.05,113.40L413.25,113.95L412.70,115.35L412.15,113.95L411.35,113.40L412.15,112.85ZM416.50,111.45L417.05,112.85L417.85,113.40L417.05,113.95L416.50,115.35L415.95,113.95L415.15,113.40L415.95,112.85ZM420.80,111.45L421.35,112.85L422.15,113.40L421.35,113.95L420.80,115.35L420.25,113.95L419.45,113.40L420.25,112.85ZM425.00,111.45L425.55,112.85L426.35,113.40L425.55,113.95L425.00,115.35L424.45,113.95L423.65,113.40L424.45,112.85ZM429.20,111.45L429.75,112.85L430.55,113.40L429.75,113.95L429.20,115.35L428.65,113.95L427.85,113.40L428.65,112.85ZM433.50,111.45L434.05,112.85L434.85,113.40L434.05,113.95L433.50,115.35L432.95,113.95L432.15,113.40L432.95,112.85ZM437.80,111.45L438.35,112.85L439.15,113.40L438.35,113.95L437.80,115.35L437.25,113.95L436.45,113.40L437.25,112.85ZM441.90,111.45L442.45,112.85L443.25,113.40L442.45,113.95L441.90,115.35L441.35,113.95L440.55,113.40L441.35,112.85ZM445.80,111.45L446.35,112.85L447.15,113.40L446.35,113.95L445.80,115.35L445.25,113.95L444.45,113.40L445.25,112.85ZM449.60,111.45L450.15,112.85L450.95,113.40L450.15,113.95L449.60,115.35L449.05,113.95L448.25,113.40L449.05,112.85ZM452.70,111.45L453.25,112.85L454.05,113.40L453.25,113.95L452.70,115.35L452.15,113.95L451.35,113.40L452.15,112.85ZM455.80,111.45L456.35,112.85L457.15,113.40L456.35,113.95L455.80,115.35L455.25,113.95L454.45,113.40L455.25,112.85ZM468.50,111.45L469.05,112.85L469.85,113.40L469.05,113.95L468.50,115.35L467.95,113.95L467.15,113.40L467.95,112.85ZM485.80,111.45L486.35,112.85L487.15,113.40L486.35,113.95L485.80,115.35L485.25,113.95L484.45,113.40L485.25,112.85ZM503.70,111.45L504.25,112.85L505.05,113.40L504.25,113.95L503.70,115.35L503.15,113.95L502.35,113.40L503.15,112.85Z" fill="#111" stroke="#111" stroke-width="0.35" stroke-linejoin="round"/>
<path d="M388.50,164.95L389.05,166.35L389.85,166.90L389.05,167.45L388.50,168.85L387.95,167.45L387.15,166.90L387.95,166.35ZM394.20,164.95L394.75,166.35L395.55,166.90L394.75,167.45L394.20,168.85L393.65,167.45L392.85,166.90L393.65,166.35Z" fill="#111" stroke="#111" stroke-width="0.35" stroke-linejoin="round"/>
<text x="387.00" y="124.70" font-size="9.6" textLength="27.2" lengthAdjust="spacingAndGlyphs" fill="#231f20">Score 0</text>
<text x="472.10" y="125.00" font-size="9.6" textLength="30.1" lengthAdjust="spacingAndGlyphs" fill="#231f20">p&lt;0.001</text>
<text x="366.10" y="179.40" font-size="9.6" textLength="27.0" lengthAdjust="spacingAndGlyphs" fill="#231f20">Score 1</text>
<line x1="414.20" y1="193.30" x2="428.80" y2="193.30" stroke="#a3223a" stroke-width="1.8" stroke-linecap="butt"/>
<text x="433.20" y="196.10" font-size="9.6" textLength="54.8" lengthAdjust="spacingAndGlyphs" fill="#231f20">Median OS: NR</text>
<line x1="414.20" y1="204.80" x2="428.80" y2="204.80" stroke="#26437c" stroke-width="1.6" stroke-dasharray="1.3,1.25" stroke-linecap="butt"/>
<text x="433.20" y="207.60" font-size="9.6" textLength="69.9" lengthAdjust="spacingAndGlyphs" fill="#231f20">Median OS: 7 years</text>
<text x="365.80" y="251.60" font-size="11.3" textLength="130.7" lengthAdjust="spacingAndGlyphs" fill="#231f20">Time from diagnosis (years)</text>
<text x="290.80" y="259.70" font-size="8.9" textLength="39.3" lengthAdjust="spacingAndGlyphs" fill="#231f20">N. of cases</text>
<text x="294.40" y="272.80" font-size="8.9" textLength="27.2" lengthAdjust="spacingAndGlyphs" fill="#231f20">Score 0</text>
<text x="350.20" y="272.80" font-size="8.9" text-anchor="middle" textLength="13.5" lengthAdjust="spacingAndGlyphs" fill="#231f20">192</text>
<text x="394.00" y="272.80" font-size="8.9" text-anchor="middle" textLength="9.0" lengthAdjust="spacingAndGlyphs" fill="#231f20">62</text>
<text x="437.80" y="272.80" font-size="8.9" text-anchor="middle" textLength="9.0" lengthAdjust="spacingAndGlyphs" fill="#231f20">14</text>
<text x="481.60" y="272.80" font-size="8.9" text-anchor="middle" textLength="4.5" lengthAdjust="spacingAndGlyphs" fill="#231f20">5</text>
<text x="294.40" y="285.90" font-size="8.9" textLength="27.2" lengthAdjust="spacingAndGlyphs" fill="#231f20">Score 1</text>
<text x="350.20" y="285.90" font-size="8.9" text-anchor="middle" textLength="4.5" lengthAdjust="spacingAndGlyphs" fill="#231f20">8</text>
<text x="394.00" y="285.90" font-size="8.9" text-anchor="middle" textLength="4.5" lengthAdjust="spacingAndGlyphs" fill="#231f20">0</text>
<text x="437.80" y="285.90" font-size="8.9" text-anchor="middle" textLength="4.5" lengthAdjust="spacingAndGlyphs" fill="#231f20">0</text>
<text x="481.60" y="285.90" font-size="8.9" text-anchor="middle" textLength="4.5" lengthAdjust="spacingAndGlyphs" fill="#231f20">0</text>
<line x1="350.10" y1="348.30" x2="350.10" y2="465.10" stroke="#1a1a1a" stroke-width="1.3" stroke-linecap="butt"/>
<line x1="349.50" y1="464.50" x2="511.30" y2="464.50" stroke="#1a1a1a" stroke-width="1.3" stroke-linecap="butt"/>
<line x1="346.50" y1="354.20" x2="350.10" y2="354.20" stroke="#1a1a1a" stroke-width="1.2" stroke-linecap="butt"/>
<text x="343.60" y="357.40" font-size="9.3" text-anchor="end" textLength="22.3" lengthAdjust="spacingAndGlyphs" fill="#231f20">100%</text>
<line x1="346.50" y1="376.26" x2="350.10" y2="376.26" stroke="#1a1a1a" stroke-width="1.2" stroke-linecap="butt"/>
<text x="343.60" y="379.46" font-size="9.3" text-anchor="end" textLength="17.6" lengthAdjust="spacingAndGlyphs" fill="#231f20">80%</text>
<line x1="346.50" y1="398.32" x2="350.10" y2="398.32" stroke="#1a1a1a" stroke-width="1.2" stroke-linecap="butt"/>
<text x="343.60" y="401.52" font-size="9.3" text-anchor="end" textLength="17.6" lengthAdjust="spacingAndGlyphs" fill="#231f20">60%</text>
<line x1="346.50" y1="420.38" x2="350.10" y2="420.38" stroke="#1a1a1a" stroke-width="1.2" stroke-linecap="butt"/>
<text x="343.60" y="423.58" font-size="9.3" text-anchor="end" textLength="17.6" lengthAdjust="spacingAndGlyphs" fill="#231f20">40%</text>
<line x1="346.50" y1="442.44" x2="350.10" y2="442.44" stroke="#1a1a1a" stroke-width="1.2" stroke-linecap="butt"/>
<text x="343.60" y="445.64" font-size="9.3" text-anchor="end" textLength="17.6" lengthAdjust="spacingAndGlyphs" fill="#231f20">20%</text>
<line x1="346.50" y1="464.50" x2="350.10" y2="464.50" stroke="#1a1a1a" stroke-width="1.2" stroke-linecap="butt"/>
<text x="343.60" y="467.70" font-size="9.3" text-anchor="end" textLength="12.8" lengthAdjust="spacingAndGlyphs" fill="#231f20">0%</text>
<line x1="350.10" y1="464.50" x2="350.10" y2="467.90" stroke="#1a1a1a" stroke-width="1.2" stroke-linecap="butt"/>
<text x="350.10" y="479.30" font-size="9.1" text-anchor="middle" textLength="4.8" lengthAdjust="spacingAndGlyphs" fill="#231f20">0</text>
<line x1="403.85" y1="464.50" x2="403.85" y2="467.90" stroke="#1a1a1a" stroke-width="1.2" stroke-linecap="butt"/>
<text x="403.85" y="479.30" font-size="9.1" text-anchor="middle" textLength="4.8" lengthAdjust="spacingAndGlyphs" fill="#231f20">5</text>
<line x1="457.60" y1="464.50" x2="457.60" y2="467.90" stroke="#1a1a1a" stroke-width="1.2" stroke-linecap="butt"/>
<text x="457.60" y="479.30" font-size="9.1" text-anchor="middle" textLength="10.0" lengthAdjust="spacingAndGlyphs" fill="#231f20">10</text>
<text x="302.90" y="345.00" font-size="13.2" textLength="7.4" lengthAdjust="spacingAndGlyphs" fill="#231f20">E</text>
<path d="M350.10,354.20H414.60V368.32H507.05" fill="none" stroke="#a3223a" stroke-width="1.45"/>
<path d="M350.10,354.20H400.62V409.35H507.05" fill="none" stroke="#26437c" stroke-width="1.65" stroke-dasharray="1.3,1.25"/>
<rect x="351.80" y="352.50" width="10.80" height="3.4" rx="1.2" fill="#111"/>
<rect x="364.20" y="352.50" width="22.30" height="3.4" rx="1.2" fill="#111"/>
<rect x="388.30" y="352.50" width="5.90" height="3.4" rx="1.2" fill="#111"/>
<rect x="396.50" y="352.50" width="3.00" height="3.4" rx="1.2" fill="#111"/>
<rect x="400.30" y="352.50" width="3.10" height="3.4" rx="1.2" fill="#111"/>
<path d="M405.70,352.25L406.25,353.65L407.05,354.20L406.25,354.75L405.70,356.15L405.15,354.75L404.35,354.20L405.15,353.65ZM410.30,352.25L410.85,353.65L411.65,354.20L410.85,354.75L410.30,356.15L409.75,354.75L408.95,354.20L409.75,353.65Z" fill="#111" stroke="#111" stroke-width="0.35" stroke-linejoin="round"/>
<path d="M419.60,366.37L420.15,367.77L420.95,368.32L420.15,368.87L419.60,370.27L419.05,368.87L418.25,368.32L419.05,367.77ZM425.20,366.37L425.75,367.77L426.55,368.32L425.75,368.87L425.20,370.27L424.65,368.87L423.85,368.32L424.65,367.77ZM427.20,366.37L427.75,367.77L428.55,368.32L427.75,368.87L427.20,370.27L426.65,368.87L425.85,368.32L426.65,367.77ZM458.70,366.37L459.25,367.77L460.05,368.32L459.25,368.87L458.70,370.27L458.15,368.87L457.35,368.32L458.15,367.77ZM491.20,366.37L491.75,367.77L492.55,368.32L491.75,368.87L491.20,370.27L490.65,368.87L489.85,368.32L490.65,367.77ZM501.80,366.37L502.35,367.77L503.15,368.32L502.35,368.87L501.80,370.27L501.25,368.87L500.45,368.32L501.25,367.77ZM505.90,366.37L506.45,367.77L507.25,368.32L506.45,368.87L505.90,370.27L505.35,368.87L504.55,368.32L505.35,367.77Z" fill="#111" stroke="#111" stroke-width="0.35" stroke-linejoin="round"/>
<path d="M412.80,407.40L413.35,408.80L414.15,409.35L413.35,409.90L412.80,411.30L412.25,409.90L411.45,409.35L412.25,408.80ZM508.60,407.40L509.15,408.80L509.95,409.35L509.15,409.90L508.60,411.30L508.05,409.90L507.25,409.35L508.05,408.80Z" fill="#111" stroke="#111" stroke-width="0.35" stroke-linejoin="round"/>
<text x="429.50" y="365.00" font-size="9.6" textLength="27.6" lengthAdjust="spacingAndGlyphs" fill="#231f20">Score 0</text>
<text x="483.00" y="361.70" font-size="9.6" textLength="21.4" lengthAdjust="spacingAndGlyphs" fill="#231f20">P=.04</text>
<text x="365.80" y="411.90" font-size="9.6" textLength="26.4" lengthAdjust="spacingAndGlyphs" fill="#231f20">Score 1</text>
<line x1="408.20" y1="437.10" x2="421.50" y2="437.10" stroke="#a3223a" stroke-width="1.8" stroke-linecap="butt"/>
<text x="425.50" y="439.70" font-size="9.6" textLength="55.3" lengthAdjust="spacingAndGlyphs" fill="#231f20">Median OS: NR</text>
<line x1="408.20" y1="448.80" x2="421.50" y2="448.80" stroke="#26437c" stroke-width="1.6" stroke-dasharray="1.3,1.25" stroke-linecap="butt"/>
<text x="425.50" y="451.40" font-size="9.6" textLength="76.3" lengthAdjust="spacingAndGlyphs" fill="#231f20">Median OS: 4,7 years</text>
<text x="365.50" y="497.30" font-size="11.3" textLength="131.0" lengthAdjust="spacingAndGlyphs" fill="#231f20">Time from diagnosis (years)</text>
<text x="290.80" y="503.50" font-size="8.9" textLength="39.3" lengthAdjust="spacingAndGlyphs" fill="#231f20">N. of cases</text>
<text x="294.40" y="516.75" font-size="8.9" textLength="27.2" lengthAdjust="spacingAndGlyphs" fill="#231f20">Score 0</text>
<text x="350.10" y="516.75" font-size="8.9" text-anchor="middle" textLength="13.5" lengthAdjust="spacingAndGlyphs" fill="#231f20">118</text>
<text x="403.85" y="516.75" font-size="8.9" text-anchor="middle" textLength="4.5" lengthAdjust="spacingAndGlyphs" fill="#231f20">7</text>
<text x="457.60" y="516.75" font-size="8.9" text-anchor="middle" textLength="4.5" lengthAdjust="spacingAndGlyphs" fill="#231f20">3</text>
<text x="294.40" y="530.00" font-size="8.9" textLength="27.2" lengthAdjust="spacingAndGlyphs" fill="#231f20">Score 1</text>
<text x="350.10" y="530.00" font-size="8.9" text-anchor="middle" textLength="4.5" lengthAdjust="spacingAndGlyphs" fill="#231f20">4</text>
<text x="403.85" y="530.00" font-size="8.9" text-anchor="middle" textLength="4.5" lengthAdjust="spacingAndGlyphs" fill="#231f20">2</text>
<text x="457.60" y="530.00" font-size="8.9" text-anchor="middle" textLength="4.5" lengthAdjust="spacingAndGlyphs" fill="#231f20">1</text>
<line x1="350.40" y1="595.20" x2="350.40" y2="712.30" stroke="#1a1a1a" stroke-width="1.3" stroke-linecap="butt"/>
<line x1="349.80" y1="711.70" x2="510.40" y2="711.70" stroke="#1a1a1a" stroke-width="1.3" stroke-linecap="butt"/>
<line x1="346.80" y1="601.10" x2="350.40" y2="601.10" stroke="#1a1a1a" stroke-width="1.2" stroke-linecap="butt"/>
<text x="343.90" y="604.30" font-size="9.3" text-anchor="end" textLength="22.3" lengthAdjust="spacingAndGlyphs" fill="#231f20">100%</text>
<line x1="346.80" y1="623.22" x2="350.40" y2="623.22" stroke="#1a1a1a" stroke-width="1.2" stroke-linecap="butt"/>
<text x="343.90" y="626.42" font-size="9.3" text-anchor="end" textLength="17.6" lengthAdjust="spacingAndGlyphs" fill="#231f20">80%</text>
<line x1="346.80" y1="645.34" x2="350.40" y2="645.34" stroke="#1a1a1a" stroke-width="1.2" stroke-linecap="butt"/>
<text x="343.90" y="648.54" font-size="9.3" text-anchor="end" textLength="17.6" lengthAdjust="spacingAndGlyphs" fill="#231f20">60%</text>
<line x1="346.80" y1="667.46" x2="350.40" y2="667.46" stroke="#1a1a1a" stroke-width="1.2" stroke-linecap="butt"/>
<text x="343.90" y="670.66" font-size="9.3" text-anchor="end" textLength="17.6" lengthAdjust="spacingAndGlyphs" fill="#231f20">40%</text>
<line x1="346.80" y1="689.58" x2="350.40" y2="689.58" stroke="#1a1a1a" stroke-width="1.2" stroke-linecap="butt"/>
<text x="343.90" y="692.78" font-size="9.3" text-anchor="end" textLength="17.6" lengthAdjust="spacingAndGlyphs" fill="#231f20">20%</text>
<line x1="346.80" y1="711.70" x2="350.40" y2="711.70" stroke="#1a1a1a" stroke-width="1.2" stroke-linecap="butt"/>
<text x="343.90" y="714.90" font-size="9.3" text-anchor="end" textLength="12.8" lengthAdjust="spacingAndGlyphs" fill="#231f20">0%</text>
<line x1="350.40" y1="711.70" x2="350.40" y2="715.10" stroke="#1a1a1a" stroke-width="1.2" stroke-linecap="butt"/>
<text x="350.40" y="726.50" font-size="9.1" text-anchor="middle" textLength="4.8" lengthAdjust="spacingAndGlyphs" fill="#231f20">0</text>
<line x1="393.85" y1="711.70" x2="393.85" y2="715.10" stroke="#1a1a1a" stroke-width="1.2" stroke-linecap="butt"/>
<text x="393.85" y="726.50" font-size="9.1" text-anchor="middle" textLength="10.0" lengthAdjust="spacingAndGlyphs" fill="#231f20">10</text>
<line x1="437.30" y1="711.70" x2="437.30" y2="715.10" stroke="#1a1a1a" stroke-width="1.2" stroke-linecap="butt"/>
<text x="437.30" y="726.50" font-size="9.1" text-anchor="middle" textLength="10.0" lengthAdjust="spacingAndGlyphs" fill="#231f20">20</text>
<line x1="480.75" y1="711.70" x2="480.75" y2="715.10" stroke="#1a1a1a" stroke-width="1.2" stroke-linecap="butt"/>
<text x="480.75" y="726.50" font-size="9.1" text-anchor="middle" textLength="10.0" lengthAdjust="spacingAndGlyphs" fill="#231f20">30</text>
<text x="302.90" y="588.60" font-size="13.2" fill="#231f20">F</text>
<path d="M350.40,601.10H502.47" fill="none" stroke="#a3223a" stroke-width="1.45"/>
<path d="M350.40,601.10H358.44V611.05H371.04V623.22H376.69V648.66H381.03V661.38H395.15" fill="none" stroke="#26437c" stroke-width="1.65" stroke-dasharray="1.3,1.25"/>
<rect x="350.30" y="599.50" width="22.90" height="3.2" rx="1.2" fill="#111"/>
<path d="M375.40,599.15L375.95,600.55L376.75,601.10L375.95,601.65L375.40,603.05L374.85,601.65L374.05,601.10L374.85,600.55ZM378.00,599.15L378.55,600.55L379.35,601.10L378.55,601.65L378.00,603.05L377.45,601.65L376.65,601.10L377.45,600.55ZM380.60,599.15L381.15,600.55L381.95,601.10L381.15,601.65L380.60,603.05L380.05,601.65L379.25,601.10L380.05,600.55ZM383.70,599.15L384.25,600.55L385.05,601.10L384.25,601.65L383.70,603.05L383.15,601.65L382.35,601.10L383.15,600.55ZM387.20,599.15L387.75,600.55L388.55,601.10L387.75,601.65L387.20,603.05L386.65,601.65L385.85,601.10L386.65,600.55ZM391.10,599.15L391.65,600.55L392.45,601.10L391.65,601.65L391.10,603.05L390.55,601.65L389.75,601.10L390.55,600.55ZM394.90,599.15L395.45,600.55L396.25,601.10L395.45,601.65L394.90,603.05L394.35,601.65L393.55,601.10L394.35,600.55ZM398.80,599.15L399.35,600.55L400.15,601.10L399.35,601.65L398.80,603.05L398.25,601.65L397.45,601.10L398.25,600.55ZM402.60,599.15L403.15,600.55L403.95,601.10L403.15,601.65L402.60,603.05L402.05,601.65L401.25,601.10L402.05,600.55ZM406.80,599.15L407.35,600.55L408.15,601.10L407.35,601.65L406.80,603.05L406.25,601.65L405.45,601.10L406.25,600.55ZM410.30,599.15L410.85,600.55L411.65,601.10L410.85,601.65L410.30,603.05L409.75,601.65L408.95,601.10L409.75,600.55ZM412.60,599.15L413.15,600.55L413.95,601.10L413.15,601.65L412.60,603.05L412.05,601.65L411.25,601.10L412.05,600.55ZM414.50,599.15L415.05,600.55L415.85,601.10L415.05,601.65L414.50,603.05L413.95,601.65L413.15,601.10L413.95,600.55ZM417.50,599.15L418.05,600.55L418.85,601.10L418.05,601.65L417.50,603.05L416.95,601.65L416.15,601.10L416.95,600.55ZM421.10,599.15L421.65,600.55L422.45,601.10L421.65,601.65L421.10,603.05L420.55,601.65L419.75,601.10L420.55,600.55ZM424.60,599.15L425.15,600.55L425.95,601.10L425.15,601.65L424.60,603.05L424.05,601.65L423.25,601.10L424.05,600.55ZM428.70,599.15L429.25,600.55L430.05,601.10L429.25,601.65L428.70,603.05L428.15,601.65L427.35,601.10L428.15,600.55ZM433.00,599.15L433.55,600.55L434.35,601.10L433.55,601.65L433.00,603.05L432.45,601.65L431.65,601.10L432.45,600.55ZM437.30,599.15L437.85,600.55L438.65,601.10L437.85,601.65L437.30,603.05L436.75,601.65L435.95,601.10L436.75,600.55ZM441.10,599.15L441.65,600.55L442.45,601.10L441.65,601.65L441.10,603.05L440.55,601.65L439.75,601.10L440.55,600.55ZM445.10,599.15L445.65,600.55L446.45,601.10L445.65,601.65L445.10,603.05L444.55,601.65L443.75,601.10L444.55,600.55ZM448.50,599.15L449.05,600.55L449.85,601.10L449.05,601.65L448.50,603.05L447.95,601.65L447.15,601.10L447.95,600.55ZM451.50,599.15L452.05,600.55L452.85,601.10L452.05,601.65L451.50,603.05L450.95,601.65L450.15,601.10L450.95,600.55ZM455.00,599.15L455.55,600.55L456.35,601.10L455.55,601.65L455.00,603.05L454.45,601.65L453.65,601.10L454.45,600.55ZM467.60,599.15L468.15,600.55L468.95,601.10L468.15,601.65L467.60,603.05L467.05,601.65L466.25,601.10L467.05,600.55ZM484.90,599.15L485.45,600.55L486.25,601.10L485.45,601.65L484.90,603.05L484.35,601.65L483.55,601.10L484.35,600.55ZM503.00,599.15L503.55,600.55L504.35,601.10L503.55,601.65L503.00,603.05L502.45,601.65L501.65,601.10L502.45,600.55Z" fill="#111" stroke="#111" stroke-width="0.35" stroke-linejoin="round"/>
<path d="M361.00,609.10L361.55,610.50L362.35,611.05L361.55,611.60L361.00,613.00L360.45,611.60L359.65,611.05L360.45,610.50ZM363.50,609.10L364.05,610.50L364.85,611.05L364.05,611.60L363.50,613.00L362.95,611.60L362.15,611.05L362.95,610.50Z" fill="#111" stroke="#111" stroke-width="0.35" stroke-linejoin="round"/>
<path d="M389.00,659.43L389.55,660.83L390.35,661.38L389.55,661.93L389.00,663.33L388.45,661.93L387.65,661.38L388.45,660.83ZM393.50,659.43L394.05,660.83L394.85,661.38L394.05,661.93L393.50,663.33L392.95,661.93L392.15,661.38L392.95,660.83Z" fill="#111" stroke="#111" stroke-width="0.35" stroke-linejoin="round"/>
<text x="395.20" y="614.20" font-size="9.6" textLength="26.8" lengthAdjust="spacingAndGlyphs" fill="#231f20">Score 0</text>
<text x="474.80" y="611.90" font-size="9.6" textLength="30.2" lengthAdjust="spacingAndGlyphs" fill="#231f20">p&lt;0.001</text>
<text x="366.60" y="671.30" font-size="9.6" textLength="26.5" lengthAdjust="spacingAndGlyphs" fill="#231f20">Score 1</text>
<line x1="413.90" y1="684.40" x2="428.20" y2="684.40" stroke="#a3223a" stroke-width="1.8" stroke-linecap="butt"/>
<text x="431.90" y="687.40" font-size="9.6" textLength="55.3" lengthAdjust="spacingAndGlyphs" fill="#231f20">Median OS: NR</text>
<line x1="413.90" y1="696.00" x2="428.20" y2="696.00" stroke="#26437c" stroke-width="1.6" stroke-dasharray="1.3,1.25" stroke-linecap="butt"/>
<text x="431.90" y="699.00" font-size="9.6" textLength="70.3" lengthAdjust="spacingAndGlyphs" fill="#231f20">Median OS: 7 years</text>
<text x="364.60" y="743.60" font-size="11.3" textLength="130.6" lengthAdjust="spacingAndGlyphs" fill="#231f20">Time from diagnosis (years)</text>
<text x="290.80" y="750.70" font-size="8.9" textLength="39.3" lengthAdjust="spacingAndGlyphs" fill="#231f20">N. of cases</text>
<text x="294.40" y="764.00" font-size="8.9" textLength="27.2" lengthAdjust="spacingAndGlyphs" fill="#231f20">Score 0</text>
<text x="350.40" y="764.00" font-size="8.9" text-anchor="middle" textLength="13.5" lengthAdjust="spacingAndGlyphs" fill="#231f20">310</text>
<text x="393.85" y="764.00" font-size="8.9" text-anchor="middle" textLength="9.0" lengthAdjust="spacingAndGlyphs" fill="#231f20">65</text>
<text x="437.30" y="764.00" font-size="8.9" text-anchor="middle" textLength="9.0" lengthAdjust="spacingAndGlyphs" fill="#231f20">14</text>
<text x="480.75" y="764.00" font-size="8.9" text-anchor="middle" textLength="4.5" lengthAdjust="spacingAndGlyphs" fill="#231f20">5</text>
<text x="294.40" y="777.30" font-size="8.9" textLength="27.2" lengthAdjust="spacingAndGlyphs" fill="#231f20">Score 1</text>
<text x="350.40" y="777.30" font-size="8.9" text-anchor="middle" textLength="9.0" lengthAdjust="spacingAndGlyphs" fill="#231f20">12</text>
<text x="393.85" y="777.30" font-size="8.9" text-anchor="middle" textLength="4.5" lengthAdjust="spacingAndGlyphs" fill="#231f20">1</text>
<text x="437.30" y="777.30" font-size="8.9" text-anchor="middle" textLength="4.5" lengthAdjust="spacingAndGlyphs" fill="#231f20">0</text>
<text x="480.75" y="777.30" font-size="8.9" text-anchor="middle" textLength="4.5" lengthAdjust="spacingAndGlyphs" fill="#231f20">0</text>
<rect x="0" y="0" width="520" height="1.7" fill="#5a5a5a"/>
<rect x="0" y="0" width="2.0" height="815" fill="#5a5a5a"/>
<rect x="518.1" y="0" width="1.9" height="815" fill="#5a5a5a"/>
<rect x="0" y="813.6" width="520" height="1.4" fill="#262626"/>
</svg>
</body></html>
